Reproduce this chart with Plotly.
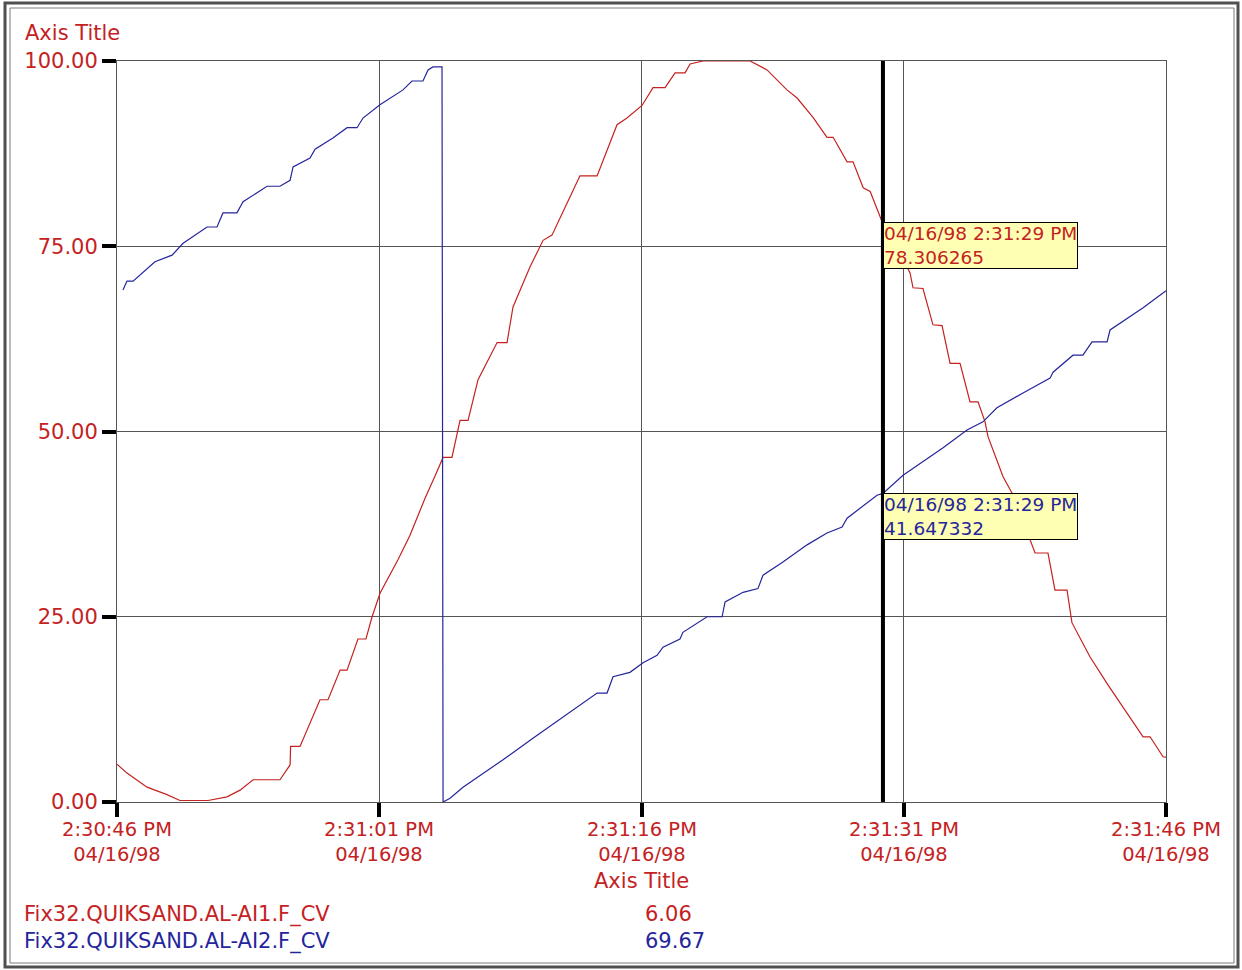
import pandas as pd
import plotly.graph_objects as go

# Time offsets (seconds from 2:30:46 PM) and values
START = pd.Timestamp("1998-04-16 14:30:46")

red_name = "Fix32.QUIKSAND.AL-AI1.F_CV"
red_t = [0.00, 0.57, 1.72, 2.86, 3.60, 5.21, 6.29, 7.04, 7.78, 9.32, 9.90, 9.93, 10.47, 11.61, 12.07,
         12.76, 13.16, 13.78, 14.24, 14.59, 15.05, 16.07, 16.76, 17.62, 18.19, 18.65, 19.16, 19.62, 20.08,
         20.65, 21.74, 22.31, 22.65, 23.62, 24.37, 24.88, 25.74, 26.48, 27.46, 28.60, 29.17, 30.03, 30.66,
         31.35, 31.92, 32.49, 32.78, 33.52, 36.21, 37.18, 38.32, 38.90, 39.81, 40.61, 40.96, 41.76, 42.10,
         42.68, 43.08, 43.76, 44.50, 45.36, 45.53, 46.10, 46.67, 47.19, 47.65, 48.22, 48.79, 49.25, 49.65,
         49.82, 50.68, 51.19, 51.65, 52.22, 52.51, 53.25, 53.65, 54.34, 54.62, 55.65, 56.68, 57.77, 58.69,
         59.09, 59.83, 60.00]
red_v = [5.1, 3.9, 2.0, 1.0, 0.2, 0.2, 0.7, 1.6, 3.0, 3.0, 5.0, 7.5, 7.5, 13.8, 13.8,
         17.8, 17.8, 22.0, 22.0, 25.0, 28.2, 32.7, 36.0, 41.0, 44.0, 46.5, 46.5, 51.5, 51.5,
         57.0, 62.0, 62.0, 66.8, 72.2, 75.8, 76.5, 80.8, 84.5, 84.5, 91.4, 92.3, 94.0, 96.4,
         96.4, 98.4, 98.4, 99.6, 100.0, 100.0, 98.8, 96.1, 95.0, 92.4, 89.7, 89.7, 86.4, 86.4,
         82.9, 82.4, 78.3, 75.5, 71.4, 69.4, 69.3, 64.4, 64.3, 59.2, 59.2, 54.0, 54.0, 51.3,
         49.3, 43.9, 41.7, 39.0, 35.5, 33.6, 33.6, 28.6, 28.6, 24.2, 19.6, 15.8, 12.0, 8.8,
         8.8, 6.1, 6.06]

blue_name = "Fix32.QUIKSAND.AL-AI2.F_CV"
blue_t = [0.34, 0.57, 0.92, 2.17, 3.15, 3.78, 5.15, 5.72, 6.06, 6.86, 7.21, 8.58, 9.32, 9.90, 10.07,
          11.04, 11.33, 12.35, 13.16, 13.73, 14.07, 15.04, 16.36, 16.87, 17.50, 17.79, 18.07, 18.59, 18.65,
          19.05, 19.79, 22.08, 23.79, 25.91, 27.46, 28.03, 28.37, 29.34, 30.09, 30.89, 31.23, 32.20, 32.37,
          33.75, 34.61, 34.78, 35.81, 36.66, 36.95, 38.09, 39.47, 40.61, 41.47, 41.76, 43.47, 43.81, 44.96,
          47.25, 48.62, 49.53, 50.33, 51.82, 53.37, 53.54, 54.68, 55.25, 55.77, 56.63, 56.80, 58.69, 60.00]
blue_v = [69.1, 70.3, 70.3, 72.9, 73.8, 75.4, 77.6, 77.6, 79.5, 79.5, 81.0, 83.1, 83.1, 83.9, 85.7,
          86.9, 88.1, 89.6, 91.0, 91.0, 92.3, 94.1, 96.1, 97.3, 97.3, 98.8, 99.2, 99.2, 0.0,
          0.5, 2.0, 5.7, 8.6, 12.1, 14.7, 14.7, 16.9, 17.5, 18.8, 19.8, 20.9, 22.0, 22.9,
          25.0, 25.0, 27.0, 28.3, 28.8, 30.6, 32.4, 34.7, 36.3, 37.1, 38.3, 41.4, 41.65, 44.1,
          47.8, 50.2, 51.3, 53.2, 55.2, 57.2, 58.0, 60.3, 60.3, 62.1, 62.1, 63.7, 66.7, 69.0]

# legend readouts
current_vals = ["6.06", "69.67"]

# cursor and its tooltips
cursor_t = 43.81
cursor_label = "04/16/98 2:31:29 PM"
cursor_vals = [78.306265, 41.647332]

# axes
x_ticks = [0, 15, 30, 45, 60]
x_time_labels = ["2:30:46 PM", "2:31:01 PM", "2:31:16 PM", "2:31:31 PM", "2:31:46 PM"]
x_date_label = "04/16/98"
y_ticks = [0, 25, 50, 75, 100]

RED = "#C4221F"
BLUE = "#25259C"
GRID = "#555555"
FONT = "DejaVu Sans"
FS = 21

# plot area in pixels (figure 1242 x 970)
L, R, T, B = 117, 1166, 61, 802
W, H = 1242, 970


def ts(sec):
    return START + pd.to_timedelta(sec, unit="s")


def px_x(p):
    return (p - L) / (R - L)


def px_y(p):
    return (B - p) / (B - T)


fig = go.Figure()
fig.add_trace(go.Scatter(x=[ts(s) for s in red_t], y=red_v, mode="lines", name=red_name,
                         line=dict(color=RED, width=1.2)))
fig.add_trace(go.Scatter(x=[ts(s) for s in blue_t], y=blue_v, mode="lines", name=blue_name,
                         line=dict(color=BLUE, width=1.2)))

# cursor line
fig.add_shape(type="line", xref="x", yref="paper", x0=ts(cursor_t), x1=ts(cursor_t), y0=0, y1=1,
              line=dict(color="black", width=4))

# outer double frame
fig.add_shape(type="rect", xref="paper", yref="paper", x0=px_x(5), x1=px_x(1238), y0=px_y(3), y1=px_y(967),
              line=dict(color="#505050", width=3))
fig.add_shape(type="rect", xref="paper", yref="paper", x0=px_x(10), x1=px_x(1234), y0=px_y(8), y1=px_y(963),
              line=dict(color="#7a7a7a", width=1))

ann = []
# x tick labels: time over date
for t, lab in zip(x_ticks, x_time_labels):
    ann.append(dict(x=ts(t), y=0, xref="x", yref="paper", text=f"{lab}<br>{x_date_label}",
                    showarrow=False, yanchor="middle", yshift=-40,
                    font=dict(family=FONT, size=19.5, color=RED)))

# axis titles
ann.append(dict(x=px_x(23), y=px_y(33), xref="paper", yref="paper", text="Axis Title", showarrow=False,
                xanchor="left", yanchor="middle", font=dict(family=FONT, size=FS, color=RED)))
ann.append(dict(x=px_x(641), y=px_y(881), xref="paper", yref="paper", text="Axis Title", showarrow=False,
                xanchor="center", yanchor="middle", font=dict(family=FONT, size=FS, color=RED)))

# legend rows
for i, (name, val, col) in enumerate(zip([red_name, blue_name], current_vals, [RED, BLUE])):
    yy = px_y(914 + 27 * i)
    ann.append(dict(x=px_x(22), y=yy, xref="paper", yref="paper", text=name, showarrow=False,
                    xanchor="left", yanchor="middle", font=dict(family=FONT, size=FS, color=col)))
    ann.append(dict(x=px_x(643), y=yy, xref="paper", yref="paper", text=val, showarrow=False,
                    xanchor="left", yanchor="middle", font=dict(family=FONT, size=FS, color=col)))

# cursor tooltips
for val, col in zip(cursor_vals, [RED, BLUE]):
    ann.append(dict(x=ts(cursor_t), y=val, xref="x", yref="y", showarrow=False,
                    text=f"{cursor_label}<br>{val:.6f}", align="left",
                    xanchor="left", yanchor="top", bgcolor="#FFFFB4", bordercolor="black",
                    borderwidth=1, borderpad=0, font=dict(family=FONT, size=18.5, color=col)))

fig.update_layout(
    width=W, height=H,
    margin=dict(l=L, r=W - R, t=T, b=H - B, pad=0),
    paper_bgcolor="white", plot_bgcolor="white",
    showlegend=False,
    annotations=ann,
    font=dict(family=FONT, color=RED),
)
fig.update_xaxes(
    type="date", range=[ts(0), ts(60)], tickvals=[ts(t) for t in x_ticks], showticklabels=False,
    ticks="outside", ticklen=14, tickwidth=4, tickcolor="black",
    showgrid=True, gridcolor=GRID, gridwidth=1,
    showline=True, linecolor=GRID, linewidth=1, mirror=True, zeroline=False,
)
fig.update_yaxes(
    range=[0, 100], tickvals=y_ticks, ticktext=[f"{v:.2f}" for v in y_ticks],
    ticks="outside", ticklen=14, tickwidth=4, tickcolor="black",
    tickfont=dict(family=FONT, size=FS, color=RED),
    showgrid=True, gridcolor=GRID, gridwidth=1,
    showline=True, linecolor=GRID, linewidth=1, mirror=True, zeroline=False,
)

fig.write_html("out.html", config={"displayModeBar": False},
               post_script="document.body.style.margin='0';")
